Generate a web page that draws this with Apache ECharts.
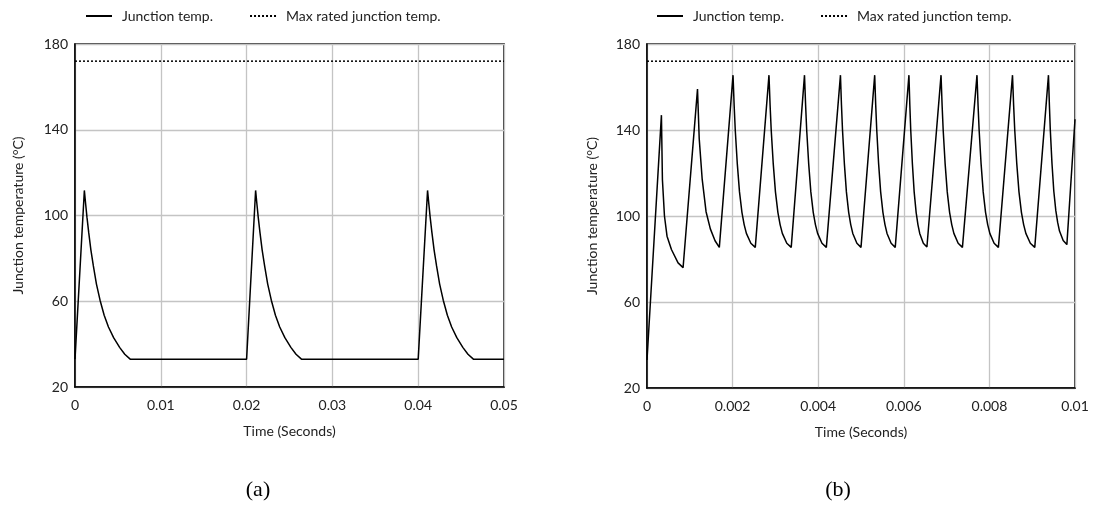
<!DOCTYPE html>
<html>
<head>
<meta charset="utf-8">
<title>Junction temperature</title>
<script src="https://cdn.jsdelivr.net/npm/echarts@6/dist/echarts.min.js"></script>
<style>
  html, body { margin: 0; padding: 0; background: #fff; }
  #chart { width: 1096px; height: 513px; }
</style>
</head>
<body>
<div id="chart"></div>
<script>
// (a) one pulse every 0.02 s
var timeA = [0, 0.00109, 0.00125, 0.0014, 0.0016, 0.00185, 0.00214, 0.0025, 0.00292, 0.0034, 0.0039, 0.0045, 0.0052, 0.0058, 0.00643,
             0.02, 0.02105, 0.02121, 0.02136, 0.02156, 0.02181, 0.0221, 0.02246, 0.02288, 0.02336, 0.02386, 0.02446, 0.02516, 0.02576, 0.02639,
             0.04, 0.04109, 0.04125, 0.0414, 0.0416, 0.04185, 0.04214, 0.0425, 0.04292, 0.0434, 0.0439, 0.0445, 0.0452, 0.0458, 0.04643,
             0.05];
var tempA = [33, 111.7, 105, 99, 92, 84, 76.5, 68, 60.5, 53.5, 48, 43, 38.5, 35.3, 33,
             33, 111.7, 105, 99, 92, 84, 76.5, 68, 60.5, 53.5, 48, 43, 38.5, 35.3, 33,
             33, 111.7, 105, 99, 92, 84, 76.5, 68, 60.5, 53.5, 48, 43, 38.5, 35.3, 33,
             33];

// (b) fast pulses
var timeB = [0, 0.000337, 0.00036, 0.000408, 0.000468, 0.000571, 0.000726, 0.000843,
             0.00118, 0.00122, 0.00129, 0.00138, 0.00148, 0.00159, 0.00169,
             0.00201, 0.002036, 0.002062, 0.002109, 0.002161, 0.002218, 0.00227, 0.002322, 0.002426, 0.00253,
             0.00285, 0.002876, 0.002902, 0.002949, 0.003001, 0.003058, 0.00311, 0.003162, 0.003266, 0.00337,
             0.00368, 0.003706, 0.003731, 0.003777, 0.003828, 0.003884, 0.003935, 0.003986, 0.004088, 0.00419,
             0.00452, 0.004544, 0.004568, 0.004611, 0.004659, 0.004712, 0.00476, 0.004808, 0.004904, 0.005,
             0.00532, 0.005344, 0.005368, 0.005411, 0.005459, 0.005512, 0.00556, 0.005608, 0.005704, 0.0058,
             0.00612, 0.006141, 0.006162, 0.0062, 0.006242, 0.006288, 0.00633, 0.006372, 0.006456, 0.00654,
             0.00687, 0.006895, 0.00692, 0.006965, 0.007015, 0.00707, 0.00712, 0.00717, 0.00727, 0.00737,
             0.00771, 0.007735, 0.00776, 0.007805, 0.007855, 0.00791, 0.00796, 0.00801, 0.00811, 0.00821,
             0.00854, 0.008566, 0.008592, 0.008639, 0.008691, 0.008748, 0.0088, 0.008852, 0.008956, 0.00906,
             0.00938, 0.009402, 0.009423, 0.009462, 0.009505, 0.009552, 0.009595, 0.009638, 0.009724, 0.00981,
             0.01];
var tempB = [33, 146.9, 117, 100, 90.6, 84.4, 78.2, 76,
             159, 136, 117, 102, 94, 88.5, 85.4,
             165.5, 151.5, 140, 124.5, 111.2, 101.7, 96, 91.9, 87.3, 85.4,
             165.5, 151.5, 140, 124.5, 111.2, 101.7, 96, 91.9, 87.3, 85.4,
             165.5, 151.5, 140, 124.5, 111.2, 101.7, 96, 91.9, 87.3, 85.4,
             165.5, 151.5, 140, 124.5, 111.2, 101.7, 96, 91.9, 87.3, 85.4,
             165.5, 151.5, 140, 124.5, 111.2, 101.7, 96, 91.9, 87.3, 85.4,
             165.5, 151.5, 140, 124.5, 111.2, 101.7, 96, 91.9, 87.3, 85.6,
             165.5, 151.5, 140, 124.5, 111.2, 101.7, 96, 91.9, 87.3, 85.4,
             165.5, 151.5, 140, 124.5, 111.2, 101.7, 96, 91.9, 87.3, 85.4,
             165.5, 151.5, 140, 124.5, 111.2, 101.7, 96, 91.9, 87.3, 85.4,
             165.5, 151.5, 140, 124.5, 111.5, 102.5, 97, 93, 88.6, 86.7,
             145];

var maxTemp = 172;
var xRangeA = [0, 0.05, 0.01];
var xRangeB = [0, 0.01, 0.002];
var yRange = [20, 180, 40];
var seriesNames = ['Junction temp.', 'Max rated junction temp.'];
var captions = ['(a)', '(b)'];

function zip(xs, ys) {
    var out = [];
    for (var i = 0; i < xs.length; i++) out.push([xs[i], ys[i]]);
    return out;
}

var font = 'Lato, "Open Sans", sans-serif';
var txt = '#222';
var fs = 14;

function xAxis(idx, r) {
    return {
        gridIndex: idx, type: 'value', min: r[0], max: r[1], interval: r[2],
        name: 'Time (Seconds)', nameLocation: 'middle', nameGap: 37,
        nameTextStyle: { fontFamily: font, fontSize: fs, color: txt },
        axisLine: { lineStyle: { color: '#000', width: 1.5 } },
        axisTick: { show: false },
        axisLabel: { fontFamily: font, fontSize: fs, color: txt, margin: 11 },
        splitLine: { lineStyle: { color: '#c4c4c4', width: 1.3 } }
    };
}
function yAxis(idx, gap) {
    return {
        gridIndex: idx, type: 'value', min: yRange[0], max: yRange[1], interval: yRange[2],
        name: 'Junction temperature (°C)', nameLocation: 'middle', nameGap: gap,
        nameTextStyle: { fontFamily: font, fontSize: fs, color: txt },
        axisLine: { lineStyle: { color: '#000', width: 1.5 } },
        axisTick: { show: false },
        axisLabel: { fontFamily: font, fontSize: fs, color: txt, margin: 7 },
        splitLine: { lineStyle: { color: '#c4c4c4', width: 1.3 } }
    };
}
function legend(x) {
    return {
        left: x, top: 9, padding: 0, itemWidth: 26, itemHeight: 10, itemGap: 36,
        data: seriesNames,
        itemStyle: { opacity: 0 },
        textStyle: { fontFamily: font, fontSize: fs, color: txt, padding: [0, 0, 0, 5] }
    };
}

var chart = echarts.init(document.getElementById('chart'));
chart.setOption({
    animation: false,
    backgroundColor: '#fff',
    legend: [legend(85), legend(656)],
    grid: [
        { left: 75, top: 44, width: 429, height: 343, show: true, borderColor: '#000', borderWidth: 1.5 },
        { left: 647, top: 44, width: 428, height: 344, show: true, borderColor: '#000', borderWidth: 1.5 }
    ],
    xAxis: [xAxis(0, xRangeA), xAxis(1, xRangeB)],
    yAxis: [yAxis(0, 50), yAxis(1, 48)],
    series: [
        { name: seriesNames[0], type: 'line', xAxisIndex: 0, yAxisIndex: 0, symbol: 'none',
          lineStyle: { color: '#000', width: 1.5 }, itemStyle: { color: '#000' }, data: zip(timeA, tempA) },
        { name: seriesNames[1], type: 'line', xAxisIndex: 0, yAxisIndex: 0, symbol: 'none',
          lineStyle: { color: '#000', width: 1.5, type: [2, 2] }, itemStyle: { color: '#000' },
          data: [[xRangeA[0], maxTemp], [xRangeA[1], maxTemp]] },
        { name: seriesNames[0], type: 'line', xAxisIndex: 1, yAxisIndex: 1, symbol: 'none',
          lineStyle: { color: '#000', width: 1.5 }, itemStyle: { color: '#000' }, data: zip(timeB, tempB) },
        { name: seriesNames[1], type: 'line', xAxisIndex: 1, yAxisIndex: 1, symbol: 'none',
          lineStyle: { color: '#000', width: 1.5, type: [2, 2] }, itemStyle: { color: '#000' },
          data: [[xRangeB[0], maxTemp], [xRangeB[1], maxTemp]] }
    ],
    graphic: [
        { type: 'text', x: 258, y: 490, style: { text: captions[0], font: '22px "Liberation Serif", serif', fill: '#000', textAlign: 'center', textVerticalAlign: 'middle' } },
        { type: 'text', x: 838, y: 490, style: { text: captions[1], font: '22px "Liberation Serif", serif', fill: '#000', textAlign: 'center', textVerticalAlign: 'middle' } }
    ]
});

window.addEventListener('resize', function () { chart.resize(); });
</script>
</body>
</html>
